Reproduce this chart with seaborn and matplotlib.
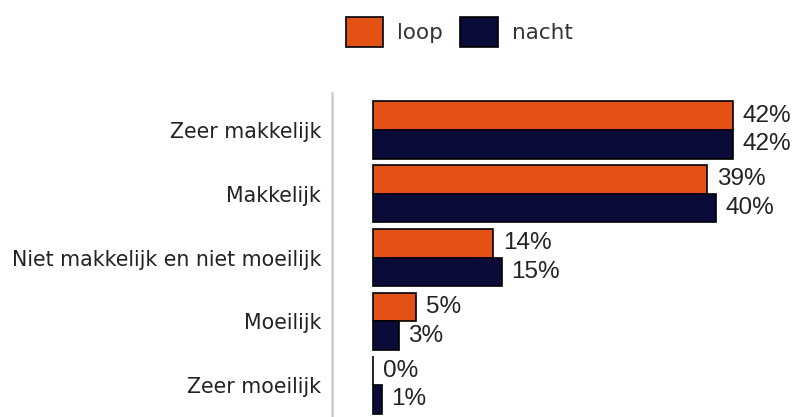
import pandas as pd
import seaborn as sns
import matplotlib.pyplot as plt

# data
categories = ["Zeer makkelijk", "Makkelijk", "Niet makkelijk en niet moeilijk",
              "Moeilijk", "Zeer moeilijk"]
loop = [42, 39, 14, 5, 0]
nacht = [42, 40, 15, 3, 1]
series = ["loop", "nacht"]
colors = ["#E35115", "#0B0B3A"]

df = pd.DataFrame({
    "category": categories * 2,
    "value": loop + nacht,
    "series": ["loop"] * len(categories) + ["nacht"] * len(categories),
})

sns.set_style("white")
plt.rcParams["font.family"] = ["DejaVu Sans"]

fig = plt.figure(figsize=(7.96, 4.17), dpi=100)
ax = fig.add_axes([332 / 796, 0, 464 / 796, 324 / 417])

sns.barplot(data=df, y="category", x="value", hue="series", orient="h",
            order=categories, hue_order=series, palette=colors, width=0.9,
            edgecolor="black", linewidth=1.2, saturation=1, ax=ax)

# value labels
for cont, vals in zip(ax.containers, [loop, nacht]):
    ax.bar_label(cont, labels=[f"{v}%" for v in vals], padding=7,
                 fontsize=17.5, color="#222222", family="Liberation Sans")

ax.set_xlim(-4.78, 49.36)
ax.set_ylim(4.5, -0.58)
ax.set_xlabel("")
ax.set_ylabel("")
ax.set_xticks([])
ax.tick_params(axis="y", length=0, pad=8, labelsize=14.8, labelcolor="#222222")

for s in ["top", "right", "bottom"]:
    ax.spines[s].set_visible(False)
ax.spines["left"].set_color("#cccccc")
ax.spines["left"].set_linewidth(1.8)

handles, labels = ax.get_legend_handles_labels()
ax.get_legend().remove()
fig.legend(handles, labels, loc="center", bbox_to_anchor=(0.577, 0.923),
           ncol=2, frameon=False, fontsize=15.5, handlelength=1.75,
           handleheight=1.75, handletextpad=0.65, columnspacing=0.8,
           labelcolor="#333333")

fig.savefig("out.png", dpi=100)
